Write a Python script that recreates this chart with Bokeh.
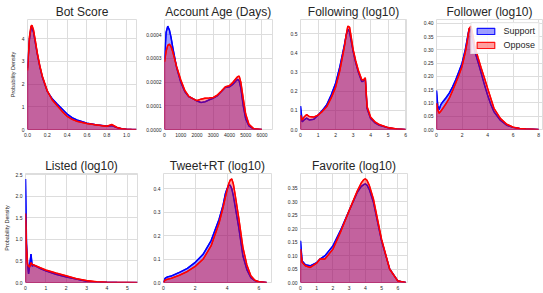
from bokeh.plotting import figure
from bokeh.layouts import column, row
from bokeh.models import FixedTicker, Legend, LegendItem, Range1d
from bokeh.embed import file_html
from bokeh.resources import INLINE

# ---------------- data ----------------
bot_x = [0, 0.02, 0.035, 0.045, 0.06, 0.08, 0.1, 0.125, 0.15, 0.2, 0.25, 0.3, 0.35, 0.4, 0.45, 0.5, 0.6, 0.7, 0.8, 0.85, 0.9, 0.95, 1.0, 1.05, 1.1]
bot_sup = [2.7, 4.0, 4.45, 4.5, 4.3, 3.8, 3.3, 2.75, 2.3, 1.68, 1.35, 1.12, 0.9, 0.68, 0.52, 0.42, 0.28, 0.2, 0.15, 0.17, 0.09, 0.03, 0.008, 0.002, 0]
bot_opp = [2.6, 4.1, 4.55, 4.6, 4.4, 3.9, 3.35, 2.8, 2.35, 1.7, 1.3, 1.05, 0.8, 0.58, 0.45, 0.36, 0.26, 0.2, 0.14, 0.22, 0.1, 0.03, 0.008, 0.002, 0]

age_x = [0, 100, 200, 300, 400, 500, 750, 1000, 1250, 1500, 1750, 2000, 2250, 2500, 2750, 3000, 3250, 3500, 3750, 4000, 4200, 4400, 4500, 4600, 4700, 4850, 5000, 5200, 5500, 6000]
age_sup = [2.95e-4, 4.1e-4, 4.36e-4, 4.2e-4, 3.9e-4, 3.5e-4, 2.6e-4, 2.0e-4, 1.6e-4, 1.38e-4, 1.3e-4, 1.2e-4, 1.14e-4, 1.17e-4, 1.25e-4, 1.32e-4, 1.42e-4, 1.6e-4, 1.78e-4, 1.8e-4, 1.9e-4, 2.05e-4, 2.12e-4, 2.05e-4, 1.75e-4, 1.0e-4, 0.45e-4, 0.15e-4, 0.02e-4, 0]
age_opp = [2.85e-4, 3.3e-4, 3.55e-4, 3.6e-4, 3.5e-4, 3.3e-4, 2.65e-4, 2.1e-4, 1.65e-4, 1.4e-4, 1.3e-4, 1.22e-4, 1.28e-4, 1.32e-4, 1.33e-4, 1.35e-4, 1.45e-4, 1.62e-4, 1.8e-4, 1.85e-4, 1.98e-4, 2.15e-4, 2.23e-4, 2.25e-4, 2.0e-4, 1.3e-4, 0.65e-4, 0.22e-4, 0.03e-4, 0]

fing_x = [0, 0.1, 0.2, 0.35, 0.5, 0.75, 1.0, 1.25, 1.5, 1.75, 2.0, 2.25, 2.5, 2.6, 2.7, 2.8, 2.9, 3.0, 3.15, 3.3, 3.5, 3.6, 3.7, 3.8, 4.0, 4.25, 4.5, 5.0, 5.5, 6.0]
fing_sup = [0.123, 0.04, 0.05, 0.06, 0.05, 0.053, 0.075, 0.1, 0.13, 0.18, 0.24, 0.33, 0.44, 0.49, 0.525, 0.51, 0.46, 0.41, 0.35, 0.3, 0.25, 0.255, 0.265, 0.11, 0.058, 0.035, 0.022, 0.009, 0.002, 0]
fing_opp = [0.075, 0.05, 0.065, 0.078, 0.068, 0.065, 0.075, 0.095, 0.12, 0.165, 0.22, 0.31, 0.43, 0.49, 0.54, 0.535, 0.48, 0.42, 0.36, 0.31, 0.26, 0.26, 0.27, 0.12, 0.065, 0.04, 0.026, 0.01, 0.003, 0]

fer_x = [0, 0.1, 0.2, 0.35, 0.5, 0.75, 1.0, 1.25, 1.5, 1.75, 2.0, 2.25, 2.4, 2.55, 2.7, 2.85, 3.0, 3.25, 3.5, 3.75, 4.0, 4.25, 4.5, 5.0, 5.5, 6.0, 6.5, 7.0, 8.0]
fer_sup = [0.147, 0.09, 0.075, 0.095, 0.105, 0.12, 0.137, 0.16, 0.187, 0.218, 0.25, 0.3, 0.34, 0.38, 0.378, 0.335, 0.295, 0.255, 0.213, 0.17, 0.13, 0.095, 0.067, 0.035, 0.016, 0.008, 0.004, 0.002, 0]
fer_opp = [0.099, 0.075, 0.061, 0.07, 0.08, 0.098, 0.118, 0.145, 0.175, 0.205, 0.238, 0.29, 0.33, 0.38, 0.39, 0.355, 0.314, 0.272, 0.232, 0.195, 0.156, 0.118, 0.08, 0.042, 0.02, 0.009, 0.004, 0.002, 0]

lst_x = [0, 0.05, 0.1, 0.15, 0.2, 0.27, 0.33, 0.4, 0.5, 0.75, 1.0, 1.5, 2.0, 2.5, 3.0, 3.5, 4.0, 4.5, 5.0, 5.5]
lst_sup = [2.4, 0.9, 0.45, 0.2, 0.38, 0.66, 0.38, 0.4, 0.38, 0.32, 0.27, 0.19, 0.13, 0.08, 0.03, 0.01, 0.003, 0.001, 0, 0]
lst_opp = [1.6, 0.8, 0.42, 0.38, 0.36, 0.46, 0.42, 0.41, 0.39, 0.34, 0.29, 0.22, 0.155, 0.09, 0.045, 0.015, 0.005, 0.002, 0.001, 0]

twt_x = [0, 0.1, 0.25, 0.5, 1.0, 1.5, 2.0, 2.5, 3.0, 3.5, 3.75, 3.9, 4.0, 4.1, 4.2, 4.3, 4.4, 4.5, 4.75, 5.0, 5.25, 5.5, 5.75, 6.0, 6.5]
twt_sup = [0, 0.018, 0.024, 0.028, 0.043, 0.06, 0.086, 0.121, 0.179, 0.27, 0.33, 0.38, 0.4, 0.415, 0.415, 0.4, 0.37, 0.33, 0.23, 0.114, 0.055, 0.021, 0.008, 0.003, 0]
twt_opp = [0, 0.01, 0.014, 0.018, 0.031, 0.047, 0.069, 0.1, 0.157, 0.254, 0.32, 0.365, 0.393, 0.42, 0.437, 0.442, 0.42, 0.379, 0.27, 0.15, 0.075, 0.029, 0.01, 0.003, 0]

fav_x = [0, 0.1, 0.3, 0.6, 1.0, 1.2, 1.5, 2.0, 2.5, 3.0, 3.5, 3.75, 3.9, 4.0, 4.1, 4.25, 4.5, 5.0, 5.5, 6.0, 6.5]
fav_sup = [0.155, 0.08, 0.066, 0.062, 0.074, 0.087, 0.099, 0.136, 0.198, 0.267, 0.335, 0.357, 0.364, 0.366, 0.362, 0.345, 0.298, 0.155, 0.05, 0.006, 0]
fav_opp = [0.124, 0.075, 0.062, 0.056, 0.072, 0.087, 0.087, 0.124, 0.192, 0.267, 0.34, 0.37, 0.382, 0.385, 0.38, 0.36, 0.31, 0.161, 0.05, 0.006, 0]

titles = ["Bot Score", "Account Age (Days)", "Following (log10)", "Follower (log10)",
          "Listed (log10)", "Tweet+RT (log10)", "Favorite (log10)"]
series_names = ["Support", "Oppose"]
y_label = "Probability Density"

bot_xt = [0, 0.2, 0.4, 0.6, 0.8, 1.0]; bot_xl = ["0.0", "0.2", "0.4", "0.6", "0.8", "1.0"]
bot_yt = [0, 1, 2, 3, 4]; bot_yl = ["0", "1", "2", "3", "4"]
age_xt = [0, 1000, 2000, 3000, 4000, 5000, 6000]; age_xl = ["0", "1000", "2000", "3000", "4000", "5000", "6000"]
age_yt = [0, 0.0001, 0.0002, 0.0003, 0.0004]; age_yl = ["0.0000", "0.0001", "0.0002", "0.0003", "0.0004"]
fing_xt = [0, 1, 2, 3, 4, 5, 6]; fing_xl = ["0", "1", "2", "3", "4", "5", "6"]
fing_yt = [0, 0.1, 0.2, 0.3, 0.4, 0.5]; fing_yl = ["0.0", "0.1", "0.2", "0.3", "0.4", "0.5"]
fer_xt = [0, 2, 4, 6, 8]; fer_xl = ["0", "2", "4", "6", "8"]
fer_yt = [0, 0.05, 0.1, 0.15, 0.2, 0.25, 0.3, 0.35, 0.4]; fer_yl = ["0.00", "0.05", "0.10", "0.15", "0.20", "0.25", "0.30", "0.35", "0.40"]
lst_xt = [0, 1, 2, 3, 4, 5]; lst_xl = ["0", "1", "2", "3", "4", "5"]
lst_yt = [0, 0.5, 1.0, 1.5, 2.0, 2.5]; lst_yl = ["0.0", "0.5", "1.0", "1.5", "2.0", "2.5"]
twt_xt = [0, 2, 4, 6]; twt_xl = ["0", "2", "4", "6"]
twt_yt = [0, 0.1, 0.2, 0.3, 0.4]; twt_yl = ["0.0", "0.1", "0.2", "0.3", "0.4"]
fav_xt = [0, 1, 2, 3, 4, 5, 6]; fav_xl = ["0", "1", "2", "3", "4", "5", "6"]
fav_yt = [0, 0.05, 0.1, 0.15, 0.2, 0.25, 0.3, 0.35]; fav_yl = ["0.00", "0.05", "0.10", "0.15", "0.20", "0.25", "0.30", "0.35"]

# ---------------- style ----------------
FONT = "Liberation Sans"
BLUE = "#0000ff"
RED = "#ff0000"
GRID = "#dddddd"
TXT = "#262626"
FILL_ALPHA = 0.38


def panel(title, xs, sup, opp, xr, yr, xt, xl, yt, yl, width, height,
          bl, br, bt, bb, ylabel=None, legend=False):
    p = figure(width=width, height=height, x_range=Range1d(*xr), y_range=Range1d(*yr),
               output_backend="svg", toolbar_location=None,
               min_border_left=bl, min_border_right=br,
               min_border_top=bt, min_border_bottom=bb)
    p.title.text = title
    p.title.text_font = FONT
    p.title.text_font_size = "12px"
    p.title.text_font_style = "normal"
    p.title.text_color = TXT
    p.title.align = "center"
    p.title.standoff = 1
    p.outline_line_color = GRID
    p.background_fill_color = "white"
    p.border_fill_color = "white"
    for ax in (p.xaxis[0], p.yaxis[0]):
        ax.axis_line_color = None
        ax.major_tick_line_color = None
        ax.minor_tick_line_color = None
        ax.major_tick_out = 0
        ax.major_tick_in = 0
        ax.minor_tick_out = 0
        ax.minor_tick_in = 0
        ax.major_label_text_font = FONT
        ax.major_label_text_font_size = "5px"
        ax.major_label_text_color = TXT
        ax.major_label_standoff = 3
    p.xaxis.ticker = FixedTicker(ticks=xt)
    p.xaxis.major_label_overrides = {t: l for t, l in zip(xt, xl)}
    p.yaxis.ticker = FixedTicker(ticks=yt)
    p.yaxis.major_label_overrides = {t: l for t, l in zip(yt, yl)}
    p.xgrid.ticker = FixedTicker(ticks=xt)
    p.ygrid.ticker = FixedTicker(ticks=yt)
    p.grid.grid_line_color = GRID
    p.grid.grid_line_width = 1
    if ylabel:
        p.yaxis.axis_label = ylabel
        p.yaxis.axis_label_text_font = FONT
        p.yaxis.axis_label_text_font_size = "5.5px"
        p.yaxis.axis_label_text_font_style = "normal"
        p.yaxis.axis_label_text_color = TXT
        p.yaxis.axis_label_standoff = 3
    renderers = []
    for vals, col in ((sup, BLUE), (opp, RED)):
        px = [xs[0]] + list(xs) + [xs[-1]]
        py = [0] + list(vals) + [0]
        r = p.patch(px, py, fill_color=col, fill_alpha=FILL_ALPHA,
                    line_color=col, line_width=1.2, line_alpha=0.9)
        p.line(xs, vals, line_color=col, line_width=1.5)
        renderers.append(r)
    if legend:
        lg = Legend(items=[LegendItem(label=series_names[0], renderers=[renderers[0]]),
                           LegendItem(label=series_names[1], renderers=[renderers[1]])],
                    location="top_right")
        lg.label_text_font = FONT
        lg.label_text_font_size = "9px"
        lg.label_text_color = TXT
        lg.glyph_width = 22
        lg.glyph_height = 8
        lg.label_standoff = 7
        lg.padding = 3
        lg.spacing = 4
        lg.margin = 3
        lg.border_line_color = "#cccccc"
        lg.background_fill_alpha = 0.85
        p.add_layout(lg)
    return p


H1, H2 = 152, 141
f1 = panel(titles[0], bot_x, bot_sup, bot_opp, (0, 1.1), (0, 4.85), bot_xt, bot_xl, bot_yt, bot_yl,
           140, H1, 27, 4, 19, 23, ylabel=y_label)
f2 = panel(titles[1], age_x, age_sup, age_opp, (0, 6650), (0, 0.000464), age_xt, age_xl, age_yt, age_yl,
           136, H1, 24, 4, 19, 23)
f3 = panel(titles[2], fing_x, fing_sup, fing_opp, (0, 6.05), (0, 0.575), fing_xt, fing_xl, fing_yt, fing_yl,
           136, H1, 24, 6, 19, 23)
f4 = panel(titles[3], fer_x, fer_sup, fer_opp, (0, 8.3), (0, 0.415), fer_xt, fer_xl, fer_yt, fer_yl,
           131, H1, 24, 1, 19, 23, legend=True)
f5 = panel(titles[4], lst_x, lst_sup, lst_opp, (0, 5.5), (0, 2.53), lst_xt, lst_xl, lst_yt, lst_yl,
           140, H2, 25, 3, 21, 11, ylabel=y_label)
f6 = panel(titles[5], twt_x, twt_sup, twt_opp, (0, 6.8), (0, 0.465), twt_xt, twt_xl, twt_yt, twt_yl,
           136, H2, 23, 5, 21, 11)
f7 = panel(titles[6], fav_x, fav_sup, fav_opp, (0, 6.6), (0, 0.405), fav_xt, fav_xl, fav_yt, fav_yl,
           136, H2, 24, 5, 21, 11)

layout = column(row(f1, f2, f3, f4, spacing=0), row(f5, f6, f7, spacing=0), spacing=0)

open("out.html", "w").write(file_html(layout, INLINE))
